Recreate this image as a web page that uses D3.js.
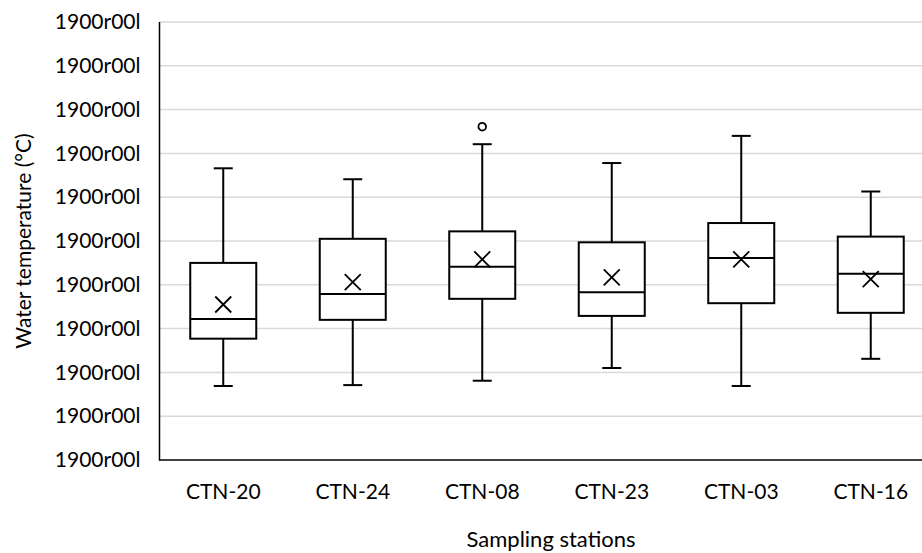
<!DOCTYPE html>
<html>
<head>
<meta charset="utf-8">
<script src="https://cdn.jsdelivr.net/npm/d3@7/dist/d3.min.js"></script>
<style>
  html, body { margin: 0; padding: 0; background: #fff; }
  svg { display: block; }
  text { font-family: Lato, "Open Sans", sans-serif; fill: #000; }
</style>
</head>
<body>
<svg id="chart" width="922" height="553"></svg>
<script>
// ---- data ----
const categories = ["CTN-20", "CTN-24", "CTN-08", "CTN-23", "CTN-03", "CTN-16"];
const whiskerLow  = [1.69, 1.71, 1.81, 2.10, 1.69, 2.31];
const q1          = [2.77, 3.20, 3.68, 3.29, 3.58, 3.36];
const median      = [3.22, 3.79, 4.41, 3.83, 4.61, 4.25];
const q3          = [4.50, 5.05, 5.22, 4.97, 5.41, 5.10];
const whiskerHigh = [6.66, 6.41, 7.21, 6.78, 7.40, 6.13];
const mean        = [3.55, 4.06, 4.58, 4.17, 4.58, 4.13];
const outliers    = [[], [], [7.61], [], [], []];
const tickValues  = [0, 1, 2, 3, 4, 5, 6, 7, 8, 9, 10];
const tickLabels  = ["1900r00l", "1900r00l", "1900r00l", "1900r00l", "1900r00l", "1900r00l",
                     "1900r00l", "1900r00l", "1900r00l", "1900r00l", "1900r00l"];
const yTitle = "Water temperature (°C)";
const xTitle = "Sampling stations";

// ---- layout ----
const svg = d3.select("#chart");
const plotLeft = 159.5, plotTop = 22, plotBottom = 460;

const x = d3.scaleBand().domain(categories).range([158.5, 935.5]).paddingInner(0).paddingOuter(0);
const y = d3.scaleLinear().domain([0, 10]).range([plotBottom, plotTop]);

const boxW = 66, capW = 19, xSize = 8;

// gridlines
svg.append("g").selectAll("line").data(tickValues.filter(v => v > 0)).join("line")
  .attr("x1", plotLeft).attr("x2", 922)
  .attr("y1", d => y(d)).attr("y2", d => y(d))
  .attr("stroke", "#d9d9d9").attr("stroke-width", 1.5);

// y axis
const yAxis = d3.axisLeft(y).tickValues(tickValues).tickSize(0).tickPadding(19)
  .tickFormat((d, i) => tickLabels[i]);
const gy = svg.append("g").attr("transform", `translate(${plotLeft},0)`).call(yAxis);
gy.select(".domain").remove();
gy.selectAll("text").style("font-size", "21px").style("font-family", "Lato, 'Open Sans', sans-serif").attr("fill", "#000");

// x axis labels
const xAxis = d3.axisBottom(x).tickSize(0).tickPadding(24);
const gx = svg.append("g").attr("transform", `translate(0,${plotBottom})`).call(xAxis);
gx.select(".domain").remove();
gx.selectAll("text").style("font-size", "21px").style("font-family", "Lato, 'Open Sans', sans-serif").attr("fill", "#000");

// axis lines
svg.append("line").attr("x1", plotLeft).attr("x2", plotLeft).attr("y1", plotTop).attr("y2", plotBottom + 0.75)
  .attr("stroke", "#000").attr("stroke-width", 1.5);
svg.append("line").attr("x1", plotLeft).attr("x2", 922).attr("y1", plotBottom).attr("y2", plotBottom)
  .attr("stroke", "#000").attr("stroke-width", 1.5);

// boxes
const data = categories.map((c, i) => ({
  c, lo: whiskerLow[i], q1: q1[i], med: median[i], q3: q3[i], hi: whiskerHigh[i], mean: mean[i], out: outliers[i]
}));

const g = svg.append("g").selectAll("g").data(data).join("g")
  .attr("transform", d => `translate(${x(d.c) + x.bandwidth() / 2},0)`);

const stroke = "#000", sw = 2;
// whiskers
g.append("line").attr("x1", 0).attr("x2", 0).attr("y1", d => y(d.q3)).attr("y2", d => y(d.hi))
  .attr("stroke", stroke).attr("stroke-width", sw);
g.append("line").attr("x1", 0).attr("x2", 0).attr("y1", d => y(d.q1)).attr("y2", d => y(d.lo))
  .attr("stroke", stroke).attr("stroke-width", sw);
g.append("line").attr("x1", -capW / 2).attr("x2", capW / 2).attr("y1", d => y(d.hi)).attr("y2", d => y(d.hi))
  .attr("stroke", stroke).attr("stroke-width", sw);
g.append("line").attr("x1", -capW / 2).attr("x2", capW / 2).attr("y1", d => y(d.lo)).attr("y2", d => y(d.lo))
  .attr("stroke", stroke).attr("stroke-width", sw);
// box
g.append("rect").attr("x", -boxW / 2).attr("width", boxW)
  .attr("y", d => y(d.q3)).attr("height", d => y(d.q1) - y(d.q3))
  .attr("fill", "#fff").attr("stroke", stroke).attr("stroke-width", sw);
// median
g.append("line").attr("x1", -boxW / 2).attr("x2", boxW / 2).attr("y1", d => y(d.med)).attr("y2", d => y(d.med))
  .attr("stroke", stroke).attr("stroke-width", sw);
// mean X
g.append("path")
  .attr("d", d => {
    const cy = y(d.mean);
    return `M${-xSize},${cy - xSize}L${xSize},${cy + xSize}M${-xSize},${cy + xSize}L${xSize},${cy - xSize}`;
  })
  .attr("stroke", stroke).attr("stroke-width", 1.8).attr("fill", "none");
// outliers
g.selectAll("circle").data(d => d.out).join("circle")
  .attr("cx", 0).attr("cy", v => y(v)).attr("r", 3.8)
  .attr("fill", "#fff").attr("stroke", stroke).attr("stroke-width", 1.8);

// titles
svg.append("text").attr("transform", `translate(31,${(plotTop + plotBottom) / 2}) rotate(-90)`)
  .attr("text-anchor", "middle").style("font-size", "21px").text(yTitle);
svg.append("text").attr("x", 551).attr("y", 547)
  .attr("text-anchor", "middle").style("font-size", "22px").text(xTitle);
</script>
</body>
</html>
